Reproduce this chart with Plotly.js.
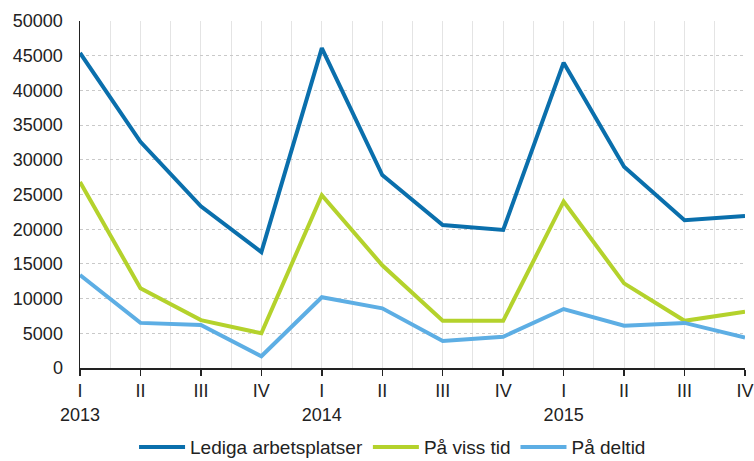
<!DOCTYPE html>
<html><head><meta charset="utf-8">
<script src="https://cdn.plot.ly/plotly-3.0.1.min.js"></script>
<style>html,body{margin:0;padding:0;background:#fff;}#chart{width:754px;height:461px;}</style>
</head><body><div id="chart"></div>
<script>
const tickLabels = ["I<br>2013","II","III","IV","I<br>2014","II","III","IV","I<br>2015","II","III","IV"];
const lediga = [45400, 32600, 23300, 16700, 46100, 27800, 20600, 19900, 44000, 29000, 21300, 21900];
const vissTid = [26800, 11500, 6900, 5000, 24900, 14800, 6800, 6800, 24000, 12200, 6800, 8100];
const deltid = [13400, 6500, 6200, 1700, 10200, 8600, 3900, 4500, 8500, 6100, 6500, 4400];
const seriesNames = ["Lediga arbetsplatser", "På viss tid", "På deltid"];

const xs = tickLabels.map((_, i) => i);
const colors = ["#0a6fac", "#b4d22c", "#5daee4"];
const traces = [lediga, vissTid, deltid].map((ys, k) => ({
  x: xs, y: ys, type: "scatter", mode: "lines", name: seriesNames[k],
  line: {color: colors[k], width: 4}
}));

const font = {family: "Liberation Sans, Arial, sans-serif", size: 18, color: "#222"};
const legFont = {family: "Liberation Sans, Arial, sans-serif", size: 19, color: "#222"};
const layout = {
  width: 754, height: 461,
  margin: {l: 80, r: 9, t: 21, b: 93, autoexpand: false},
  paper_bgcolor: "#fff", plot_bgcolor: "#fff",
  font: font,
  showlegend: true,
  legend: {orientation: "h", x: 0.47, xanchor: "center", y: -0.228, yanchor: "middle",
           font: legFont, itemwidth: 46, tracegroupgap: 0},
  xaxis: {
    range: [0, 11], tickmode: "array", tickvals: xs, ticktext: tickLabels,
    showgrid: true, gridcolor: "#e4e4e4", gridwidth: 1,
    minor: {tickmode: "linear", tick0: 0.5, dtick: 1, showgrid: true, gridcolor: "#e4e4e4", ticklen: 0},
    showline: true, linecolor: "#222", linewidth: 1.5,
    ticks: "outside", ticklen: 6, tickcolor: "#222", tickwidth: 1.5,
    zeroline: false, tickfont: font, fixedrange: true,
    automargin: false, ticklabeloverflow: "allow"
  },
  yaxis: {
    range: [0, 50000], dtick: 5000, tick0: 0,
    showgrid: true, gridcolor: "#c9c9c9", griddash: "dot", gridwidth: 1,
    showline: true, linecolor: "#222", linewidth: 1.5,
    ticks: "", zeroline: false, tickfont: font, ticklabelstandoff: 12,
    tickformat: "d", automargin: false
  }
};
Plotly.newPlot("chart", traces, layout, {displayModeBar: false, staticPlot: true});
</script></body></html>
